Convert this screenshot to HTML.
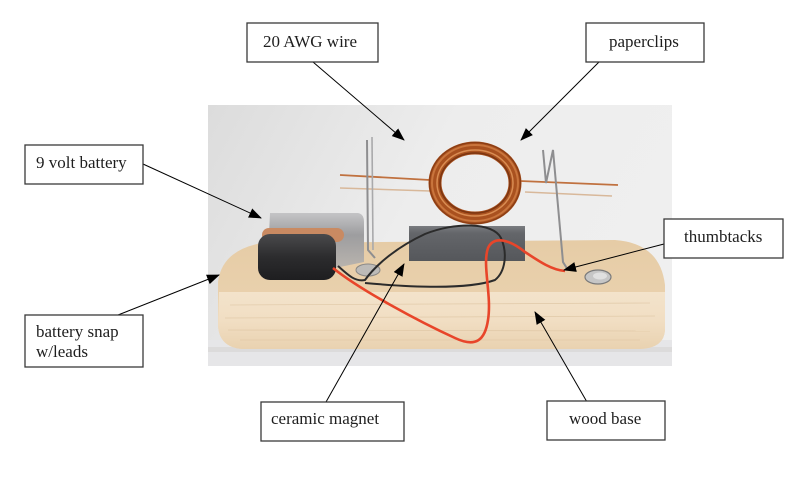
<!DOCTYPE html>
<html><head><meta charset="utf-8"><style>
html,body{margin:0;padding:0;background:#fff;}
svg{display:block;}
text{font-family:"Liberation Serif",serif;font-size:17px;fill:#1e1e1e;}
</style></head><body>
<svg width="800" height="478" viewBox="0 0 800 478" xmlns="http://www.w3.org/2000/svg">
<defs>
<linearGradient id="bg" x1="0" y1="0" x2="1" y2="0.3">
<stop offset="0" stop-color="#dcdcdc"/><stop offset="0.5" stop-color="#ededed"/><stop offset="1" stop-color="#efefef"/>
</linearGradient>
<linearGradient id="face" x1="0" y1="0" x2="0" y2="1">
<stop offset="0" stop-color="#f3e3cb"/><stop offset="0.5" stop-color="#f1dec3"/><stop offset="1" stop-color="#e9d2b0"/>
</linearGradient>
<linearGradient id="top" x1="0" y1="0" x2="0" y2="1">
<stop offset="0" stop-color="#e6cca6"/><stop offset="1" stop-color="#ecd5b3"/>
</linearGradient>
<linearGradient id="mag" x1="0" y1="0" x2="0" y2="1">
<stop offset="0" stop-color="#7a7c80"/><stop offset="0.2" stop-color="#64666a"/><stop offset="1" stop-color="#55575b"/>
</linearGradient>
<linearGradient id="bat" x1="0" y1="0" x2="0" y2="1">
<stop offset="0" stop-color="#c4c4c6"/><stop offset="0.4" stop-color="#9d9d9f"/><stop offset="1" stop-color="#b9b4ae"/>
</linearGradient>
<linearGradient id="snap" x1="0" y1="0" x2="0" y2="1">
<stop offset="0" stop-color="#4a4a4c"/><stop offset="0.5" stop-color="#2c2c2e"/><stop offset="1" stop-color="#1e1e20"/>
</linearGradient>
<marker id="ah" markerUnits="userSpaceOnUse" markerWidth="14" markerHeight="11" refX="12" refY="5" orient="auto">
<path d="M0,0 L13,5 L0,10 z" fill="#000"/>
</marker>
</defs>

<rect width="800" height="478" fill="#fff"/>

<!-- photo background -->
<rect x="208" y="105" width="464" height="261" fill="url(#bg)"/>
<rect x="208" y="340" width="464" height="26" fill="#e6e6e8"/>
<rect x="208" y="347" width="464" height="5" fill="#dcdbdb"/>

<!-- wood base -->
<path d="M262,243 L615,240 Q660,243 665,285 L665,330 Q664,348 640,349 L242,349 Q219,347 218,325 L218,282 Q222,250 262,243 Z" fill="url(#top)"/>
<path d="M219,292 L665,292 L665,330 Q664,348 640,349 L242,349 Q219,347 218,325 Z" fill="url(#face)"/>
<g stroke="#dcc3a0" stroke-width="0.8" opacity="0.7">
<line x1="230" y1="305" x2="650" y2="303"/>
<line x1="225" y1="318" x2="655" y2="316"/>
<line x1="228" y1="330" x2="650" y2="331"/>
<line x1="240" y1="340" x2="640" y2="340"/>
</g>

<!-- coil wires -->
<path d="M340,188 L430,191 M525,192 L612,196" stroke="#d8b89a" stroke-width="1.5" fill="none"/>
<path d="M340,175 L430,180 M520,181 L618,185" stroke="#c0713f" stroke-width="1.8" fill="none"/>

<!-- coil -->
<ellipse cx="475" cy="183" rx="40" ry="35" fill="none" stroke="#a9511f" stroke-width="13"/>
<ellipse cx="475" cy="183" rx="43" ry="38" fill="none" stroke="#c9753d" stroke-width="2"/>
<ellipse cx="475" cy="183" rx="38" ry="33" fill="none" stroke="#d98c52" stroke-width="1.5"/>
<ellipse cx="475" cy="183" rx="35" ry="30" fill="none" stroke="#7c3510" stroke-width="1.5"/>
<ellipse cx="475" cy="183" rx="45.5" ry="40.5" fill="none" stroke="#8a3d14" stroke-width="1.2"/>

<!-- paperclips -->
<path d="M367,140 L368,250 L375,258" stroke="#8e8e90" stroke-width="2" fill="none"/>
<path d="M372,137 L373,250" stroke="#a9a9ab" stroke-width="1.6" fill="none"/>
<path d="M543,150 L546,183 L553,150 L563,262 L568,270" stroke="#8e8e90" stroke-width="2" fill="none"/>

<!-- magnet -->
<rect x="409" y="226" width="116" height="35" fill="url(#mag)"/>

<!-- battery -->
<path d="M270,213 L358,213 Q364,214 364,222 L364,262 L335,268 L268,255 Z" fill="url(#bat)"/>
<rect x="262" y="228" width="82" height="14" rx="7" fill="#c98a62"/>
<rect x="258" y="234" width="78" height="46" rx="12" fill="url(#snap)"/>

<!-- thumbtacks -->
<ellipse cx="368" cy="270" rx="12" ry="6" fill="#bdbbb8" stroke="#8a8886" stroke-width="1"/>
<ellipse cx="598" cy="277" rx="13" ry="7" fill="#c6c6c6" stroke="#7a7a7a" stroke-width="1.2"/>
<ellipse cx="600" cy="276" rx="7" ry="3.5" fill="#e0e0e0"/>

<!-- wires -->
<path d="M338,266 C348,275 355,282 365,280 C375,266 395,248 425,234 C455,222 493,222 501,238 C508,254 505,272 495,280 C470,289 420,288 365,283" stroke="#2b2b2b" stroke-width="2" fill="none"/>
<path d="M333,268 C360,290 420,322 455,338 C476,348 485,340 488,320 C492,295 482,265 488,248 C494,235 510,240 525,252 C540,262 552,270 565,271" stroke="#e8452a" stroke-width="2.6" fill="none"/>

<!-- arrows -->
<g stroke="#000" stroke-width="1" fill="none" marker-end="url(#ah)">
<line x1="313" y1="62" x2="404" y2="140"/>
<line x1="599" y1="62" x2="521" y2="140"/>
<line x1="143" y1="164" x2="261" y2="218"/>
<line x1="118" y1="315" x2="219" y2="275"/>
<line x1="326" y1="402" x2="404" y2="264"/>
<line x1="587" y1="402" x2="535" y2="312"/>
<line x1="664" y1="244" x2="564" y2="270"/>
</g>

<!-- label boxes -->
<g fill="#fff" stroke="#3a3a3a" stroke-width="1.3">
<rect x="247" y="23" width="131" height="39"/>
<rect x="586" y="23" width="118" height="39"/>
<rect x="25" y="145" width="118" height="39"/>
<rect x="664" y="219" width="119" height="39"/>
<rect x="25" y="315" width="118" height="52"/>
<rect x="261" y="402" width="143" height="39"/>
<rect x="547" y="401" width="118" height="39"/>
</g>
<text x="263" y="47">20 AWG wire</text>
<text x="609" y="47">paperclips</text>
<text x="36" y="168">9 volt battery</text>
<text x="684" y="242">thumbtacks</text>
<text x="36" y="337">battery snap</text>
<text x="36" y="357">w/leads</text>
<text x="271" y="424">ceramic magnet</text>
<text x="569" y="424">wood base</text>
</svg>
</body></html>
